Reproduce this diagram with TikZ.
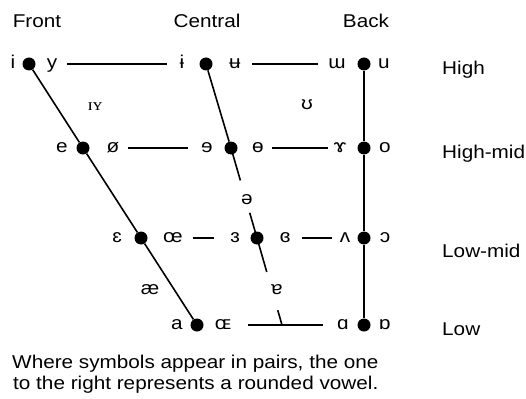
\documentclass[tikz,border=0pt]{standalone}
\usepackage{fontspec}
\setmainfont{Liberation Sans}[FakeStretch=1.12]
\newfontfamily\ipaserif{Liberation Serif}[FakeStretch=1.12]
\usetikzlibrary{calc}

\begin{document}
\begin{tikzpicture}[x=1pt, y=-1pt,
  every node/.style={font=\fontsize{18.5}{22}\selectfont},
  head/.style={anchor=base, inner sep=0pt},
  heightlbl/.style={anchor=base west, inner sep=0pt},
  sym/.style={inner sep=0pt, text height=9.6pt, text depth=0pt},
  vdot/.style={circle, fill=black, inner sep=0pt, minimum size=13pt},
  chart/.style={line width=1.6pt},
  minorsym/.style={inner sep=0pt, font=\ipaserif\fontsize{17}{20}\selectfont},
  note/.style={anchor=base west, inner sep=0pt}]
\useasboundingbox (0,0) rectangle (526,398);

% column headings
\node[head] (hFront)   at (37,28)  {Front};
\node[head] (hCentral) at (207,28) {Central};
\node[head] (hBack)    at (366,28) {Back};

% height labels
\node[heightlbl] (hHigh)    at (442,75)  {High};
\node[heightlbl] (hHighMid) at (442,158) {High-mid};
\node[heightlbl] (hLowMid)  at (442,257) {Low-mid};
\node[heightlbl] (hLow)     at (442,335) {Low};

% row 1: high vowels
\node[sym]  (s-i)    at (13,64)  {i};
\node[vdot] (f1)     at (29,64)  {};
\node[sym]  (s-y)    at (52,64)  {y};
\node[sym]  (s-ibar) at (182,64) {ɨ};
\node[vdot] (c1)     at (206,64) {};
\node[sym]  (s-ubar) at (235,64) {ʉ};
\node[sym]  (s-mw)   at (337,64) {ɯ};
\node[vdot] (b1)     at (364,64) {};
\node[sym]  (s-u)    at (384,64) {u};

% row 2: high-mid vowels
\node[sym]  (s-e)    at (62,148)  {e};
\node[vdot] (f2)     at (83,148)  {};
\node[sym]  (s-oe)   at (113,148) {ø};
\node[sym]  (s-reve) at (207,148) {ɘ};
\node[vdot] (c2)     at (231,148) {};
\node[sym]  (s-obar) at (258,148) {ɵ};
\node[sym]  (s-gam)  at (340,148) {ɤ};
\node[vdot] (b2)     at (364,148) {};
\node[sym]  (s-o)    at (385,148) {o};

% row 3: low-mid vowels
\node[sym]  (s-eps)  at (117,238) {ɛ};
\node[vdot] (f3)     at (141,238) {};
\node[sym]  (s-oel)  at (173,238) {œ};
\node[sym]  (s-reps) at (235,238) {ɜ};
\node[vdot] (c3)     at (257,238) {};
\node[sym]  (s-ceps) at (285,238) {ɞ};
\node[sym]  (s-v)    at (345,238) {ʌ};
\node[vdot] (b3)     at (364,238) {};
\node[sym]  (s-oo)   at (385,238) {ɔ};

% row 4: low vowels
\node[sym]  (s-a)    at (177,325) {a};
\node[vdot] (f4)     at (197,325) {};
\node[sym]  (s-OE)   at (223,325) {ɶ};
\node[sym]  (s-aa)   at (343,325) {ɑ};
\node[vdot] (b4)     at (364,325) {};
\node[sym]  (s-ab)   at (385,325) {ɒ};
\coordinate (cLow) at (282,325);

% vowels between the main heights
\node[minorsym] (s-IY)    at (95,107)  {ɪʏ};
\node[sym]      (s-hsu)   at (307,105) {ʊ};
\node[sym]      (s-schwa) at (247,200) {ə};
\node[sym]      (s-ae)    at (150,290) {æ};
\node[sym]      (s-turna) at (277,290) {ɐ};

% front and back edges
\draw[chart] (f1) -- (f2) -- (f3) -- (f4);
\draw[chart] (b1) -- (b2) -- (b3) -- (b4);

% central edge, broken around the symbols placed on it
\draw[chart] (c1) -- (c2);
\draw[chart] (c2.center) -- ($(c2)!0.36!(c3)$);
\draw[chart] ($(c2)!0.72!(c3)$) -- (c3.center);
\draw[chart] (c3.center) -- ($(c3)!0.39!(cLow)$);
\draw[chart] ($(c3)!0.83!(cLow)$) -- (cLow);

% horizontal links
\draw[chart, shorten <=15pt, shorten >=15pt] (s-y.center) -- (s-ibar.center);
\draw[chart, shorten <=17pt, shorten >=19pt] (s-ubar.center) -- (s-mw.center);
\draw[chart, shorten <=15pt, shorten >=19pt] (s-oe.center) -- (s-reve.center);
\draw[chart, shorten <=14pt, shorten >=12pt] (s-obar.center) -- (s-gam.center);
\draw[chart, shorten <=20pt, shorten >=21pt] (s-oel.center) -- (s-reps.center);
\draw[chart, shorten <=17pt, shorten >=13pt] (s-ceps.center) -- (s-v.center);
\draw[chart, shorten <=25pt, shorten >=20pt] (s-OE.center) -- (s-aa.center);

% explanatory note
\node[note] (note1) at (12,368) {Where symbols appear in pairs, the one};
\node[note] (note2) at (13,389) {to the right represents a rounded vowel.};
\end{tikzpicture}
\end{document}
